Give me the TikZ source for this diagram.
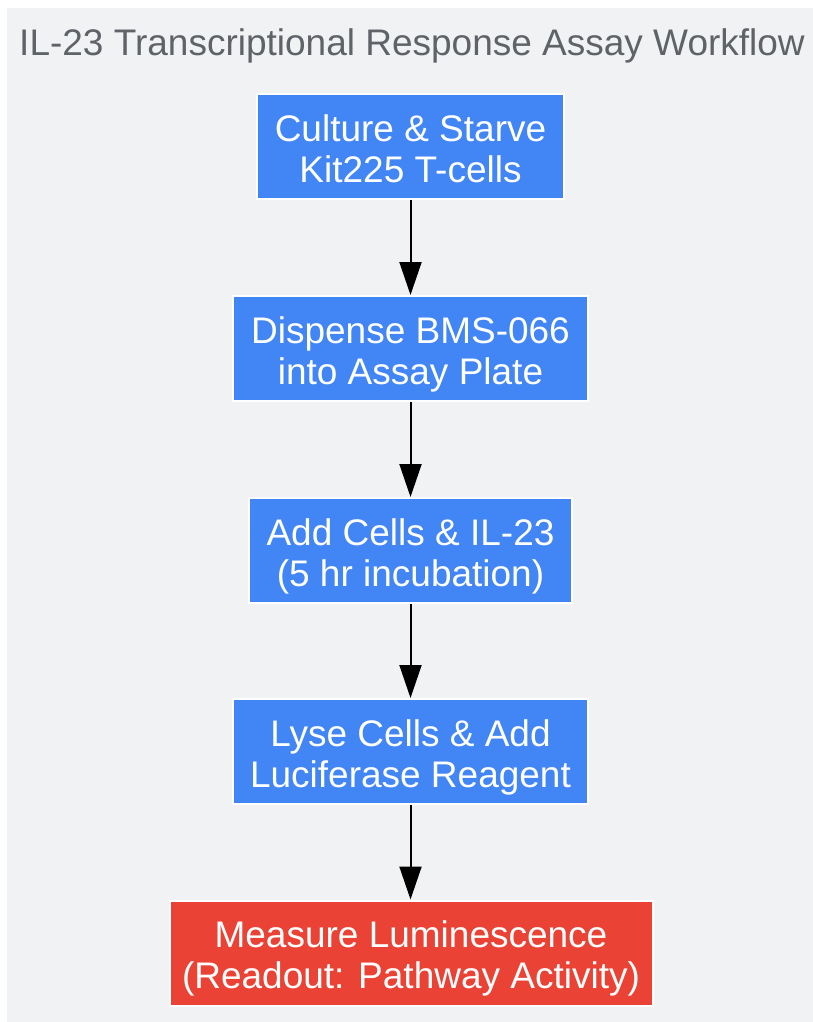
\documentclass[tikz,border=0pt]{standalone}
\usepackage{fontspec}
\setmainfont{Liberation Sans}
\usetikzlibrary{arrows.meta}
\definecolor{bgpanel}{HTML}{F1F2F4}
\definecolor{stepblue}{HTML}{4285F4}
\definecolor{stepred}{HTML}{EA4335}
\definecolor{titlegray}{HTML}{5F6368}
\newcommand\topS{\rule{0pt}{40pt}}
\newcommand\botS{\rule[-10pt]{0pt}{10pt}}
\tikzset{
  stepbox/.style={draw=white, line width=2pt, fill=stepblue, text=white, align=center,
    inner sep=0pt, minimum height=105pt, font=\fontsize{37}{41}\selectfont},
  endbox/.style={stepbox, fill=stepred},
  flow/.style={line width=2pt, -{Triangle[length=33pt,width=22pt]}}
}
\begin{document}
\begin{tikzpicture}[x=1pt,y=-1pt]
\useasboundingbox (0,0) rectangle (813,1022);
\fill[white] (0,0) rectangle (813,1022);
\fill[bgpanel] (7,8) rectangle (813,1022);
\node[text=titlegray, font=\fontsize{37}{42}\selectfont, anchor=base] (title) at (412,56) {IL-23 Transcriptional Response Assay Workflow};
\node[stepbox, minimum width=307pt] (s1) at (410.5,146.5) {\topS Culture \& Starve\\Kit225 T-cells\botS};
\node[stepbox, minimum width=355pt] (s2) at (410.5,348.5) {\topS Dispense BMS-066\\into Assay Plate\botS};
\node[stepbox, minimum width=323pt] (s3) at (410.5,550.5) {\topS Add Cells \& IL-23\\(5 hr incubation)\botS};
\node[stepbox, minimum width=355pt] (s4) at (410.5,751.5) {\topS Lyse Cells \& Add\\Luciferase Reagent\botS};
\node[endbox, minimum width=483pt] (s5) at (411,953) {\topS Measure Luminescence\\(Readout: Pathway Activity)\botS};
\draw[flow] (s1.south) -- (s2.north);
\draw[flow] (s2.south) -- (s3.north);
\draw[flow] (s3.south) -- (s4.north);
\draw[flow] (s4.south) -- (s4.south |- s5.north);
\end{tikzpicture}
\end{document}
